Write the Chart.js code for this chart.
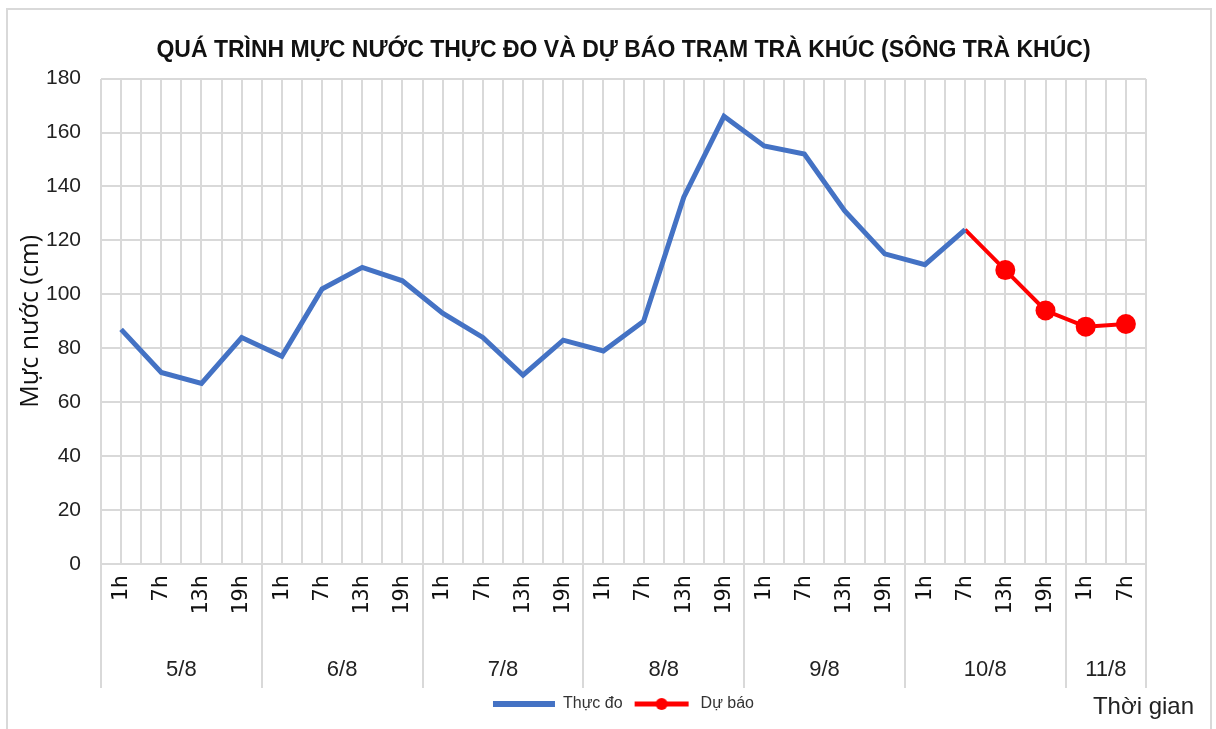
<!DOCTYPE html>
<html>
<head>
<meta charset="utf-8">
<script src="https://cdn.jsdelivr.net/npm/chart.js@4/dist/chart.umd.min.js"></script>
<style>
  html, body { margin: 0; padding: 0; background: #fff; overflow: hidden; }
  #frame { position: absolute; left: 6px; top: 8px; width: 1206px; height: 740px; border: 2px solid #d9d9d9; box-sizing: border-box; }
  #wrap { position: absolute; left: 0; top: 0; width: 1216px; height: 729px; }
</style>
</head>
<body>
<div id="frame"></div>
<div id="wrap"><canvas id="chart"></canvas></div>
<script>
const hourLabels = ['1h', '7h', '13h', '19h', '1h', '7h', '13h', '19h', '1h', '7h', '13h', '19h',
    '1h', '7h', '13h', '19h', '1h', '7h', '13h', '19h', '1h', '7h', '13h', '19h', '1h', '7h'];
const dateLabels = ['5/8', '6/8', '7/8', '8/8', '9/8', '10/8', '11/8'];
const dateCenters = [1.5, 5.5, 9.5, 13.5, 17.5, 21.5, 24.5];
const groupEdges = [-0.5, 3.5, 7.5, 11.5, 15.5, 19.5, 23.5, 25.5];
const measured = [87, 71, 67, 84, 77, 102, 110, 105, 93, 84, 70, 83, 79, 90, 136, 166, 155, 152, 131, 115, 111, 124];
const forecast = [null, null, null, null, null, null, null, null, null, null, null, null, null, null,
    null, null, null, null, null, null, null, 124, 109, 94, 88, 89];
const yTicks = [0, 20, 40, 60, 80, 100, 120, 140, 160, 180];

const sans = "'Liberation Sans', sans-serif";
const gridColor = '#d9d9d9';

// legend symbol for the forecast: line with a dot
const forecastSymbol = document.createElement('canvas');
forecastSymbol.width = 62;
forecastSymbol.height = 14;
(function () {
    const c = forecastSymbol.getContext('2d');
    c.strokeStyle = '#FF0000';
    c.fillStyle = '#FF0000';
    c.lineWidth = 5;
    c.beginPath();
    c.moveTo(4, 7);
    c.lineTo(58, 7);
    c.stroke();
    c.beginPath();
    c.arc(31, 7, 6, 0, Math.PI * 2);
    c.fill();
})();

// group separators under the axis + "Thời gian" label
const extras = {
    id: 'extras',
    afterDraw(chart) {
        const ctx = chart.ctx;
        const g = chart.scales.xg;
        const d = chart.scales.xd;
        ctx.save();
        ctx.strokeStyle = gridColor;
        ctx.lineWidth = 2;
        groupEdges.forEach(v => {
            const px = Math.round(g.getPixelForValue(v));
            ctx.beginPath();
            ctx.moveTo(px, chart.chartArea.bottom);
            ctx.lineTo(px, d.bottom);
            ctx.stroke();
        });
        ctx.fillStyle = '#222';
        ctx.font = '24px ' + sans;
        ctx.textAlign = 'right';
        ctx.textBaseline = 'middle';
        ctx.fillText('Thời gian', 1194, 707);
        ctx.restore();
    }
};

const ctx = document.getElementById('chart').getContext('2d');
new Chart(ctx, {
    type: 'line',
    data: {
        labels: hourLabels,
        datasets: [{
            label: 'Thực đo',
            data: measured,
            xAxisID: 'x',
            yAxisID: 'y',
            borderColor: '#4472C4',
            backgroundColor: '#4472C4',
            borderWidth: 5,
            pointRadius: 0,
            pointHoverRadius: 0,
            tension: 0
        }, {
            label: 'Dự báo',
            data: forecast,
            xAxisID: 'x',
            yAxisID: 'y',
            borderColor: '#FF0000',
            backgroundColor: '#FF0000',
            borderWidth: 4,
            pointRadius: c => (c.dataIndex === 21 ? 0 : 10),
            pointBorderWidth: 0,
            tension: 0
        }]
    },
    options: {
        responsive: true,
        maintainAspectRatio: false,
        animation: false,
        layout: { padding: { left: 12, right: 70, top: 0, bottom: 7 } },
        plugins: {
            title: {
                display: true,
                fullSize: false,
                text: 'QUÁ TRÌNH MỰC NƯỚC THỰC ĐO VÀ DỰ BÁO TRẠM TRÀ KHÚC (SÔNG TRÀ KHÚC)',
                color: '#111',
                font: { family: sans, size: 23, weight: 'bold' },
                padding: { top: 37, bottom: 14 }
            },
            legend: {
                position: 'bottom',
                fullSize: false,
                labels: {
                    usePointStyle: true,
                    pointStyleWidth: 62,
                    color: '#333',
                    font: { family: sans, size: 16 },
                    padding: 8,
                    generateLabels(chart) {
                        const items = Chart.defaults.plugins.legend.labels.generateLabels(chart);
                        items.forEach((it, i) => {
                            const ds = chart.data.datasets[i];
                            it.pointStyle = i === 1 ? forecastSymbol : 'line';
                            it.lineWidth = ds.borderWidth + 1;
                            it.strokeStyle = ds.borderColor;
                        });
                        return items;
                    }
                }
            },
            tooltip: { enabled: false }
        },
        scales: {
            xg: {
                type: 'linear',
                position: 'top',
                min: -0.5,
                max: 25.5,
                ticks: { display: false, stepSize: 0.5, maxTicksLimit: 100 },
                grid: { color: gridColor, lineWidth: 2, drawTicks: false },
                border: { display: false }
            },
            x: {
                type: 'category',
                offset: true,
                weight: 1,
                grid: { display: false },
                border: { display: false },
                afterFit: s => { s.height = 76; },
                ticks: {
                    autoSkip: false,
                    minRotation: 90,
                    maxRotation: 90,
                    padding: 3,
                    color: '#111',
                    font: { family: "'DejaVu Sans Mono', monospace", size: 22 }
                }
            },
            xd: {
                type: 'linear',
                position: 'bottom',
                weight: 2,
                min: -0.5,
                max: 25.5,
                grid: { display: false },
                border: { display: false },
                afterBuildTicks: s => { s.ticks = dateCenters.map(v => ({ value: v })); },
                afterFit: s => { s.height = 48; },
                ticks: {
                    autoSkip: false,
                    maxRotation: 0,
                    padding: 9,
                    color: '#222',
                    font: { family: sans, size: 22 },
                    callback: (v, i) => dateLabels[i]
                }
            },
            y: {
                min: 0,
                max: 180,
                afterBuildTicks: s => { s.ticks = yTicks.map(v => ({ value: v })); },
                afterFit: s => { s.width = 89; },
                grid: { color: gridColor, lineWidth: 2, drawTicks: false },
                border: { display: false },
                ticks: {
                    padding: 20,
                    color: '#222',
                    font: { family: sans, size: 21 }
                },
                title: {
                    display: true,
                    text: 'Mực nước (cm)',
                    color: '#111',
                    font: { family: "'Open Sans', sans-serif", size: 25 },
                    padding: { top: 4, bottom: 0 }
                }
            }
        }
    },
    plugins: [extras]
});
</script>
</body>
</html>
